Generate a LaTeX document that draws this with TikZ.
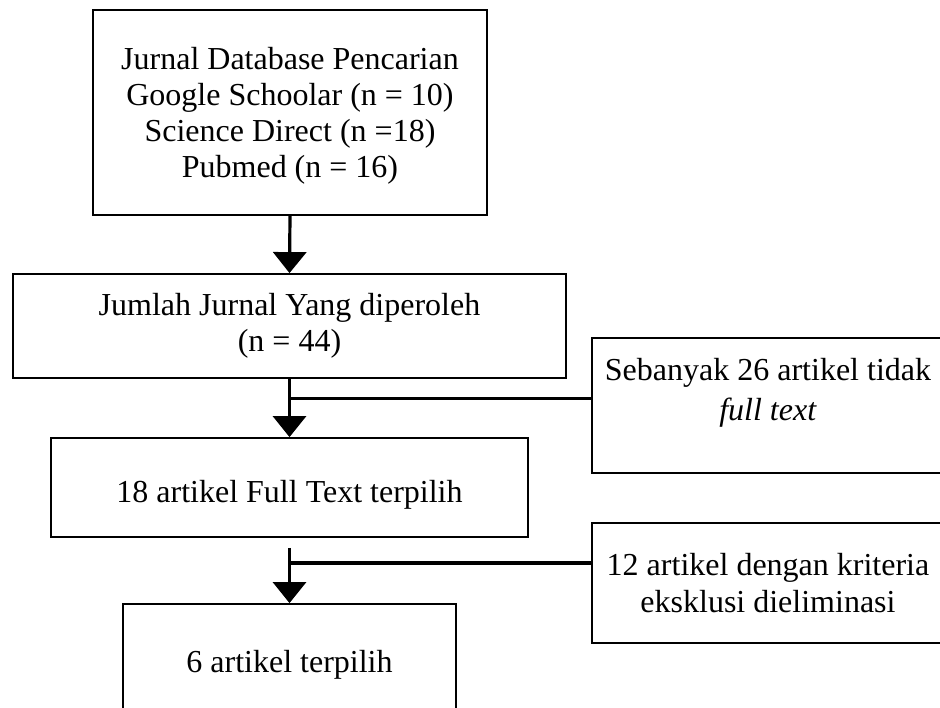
\documentclass[tikz,border=0pt]{standalone}
\usepackage{fontspec}
\setmainfont{Liberation Serif}
\usetikzlibrary{arrows.meta}
\begin{document}
\begin{tikzpicture}[x=1pt,y=-1pt,
  box/.style={draw=black, line width=1.8pt, rectangle, inner sep=0pt, align=center,
              font=\fontsize{32}{36}\selectfont},
  flow/.style={line width=3.2pt, -{Triangle[width=33pt,length=21pt]}},
  branch/.style={line width=3.2pt}]
\useasboundingbox (0,0) rectangle (940,708);
\fill[white] (0,0) rectangle (940,708);
\clip (0,0) rectangle (940,708);

\node[box, minimum width=394pt, minimum height=205pt] (b1) at (290,112.5)
  {\mbox{}\\[-8pt]Jurnal Database Pencarian\\Google Schoolar (n = 10)\\Science Direct (n =18)\\Pubmed (n = 16)};
\node[box, minimum width=553pt, minimum height=104pt] (b2) at (289.5,326)
  {Jumlah Jurnal Yang diperoleh\\(n = 44)};
\node[box, minimum width=477pt, minimum height=99pt, text height=36pt, text depth=7pt] (b3) at (289.5,487.5)
  {18 artikel Full Text terpilih};
\node[box, minimum width=333pt, minimum height=121pt] (b4) at (289.5,664.5)
  {6 artikel terpilih};
\node[box, minimum width=352pt, minimum height=135pt, font=\fontsize{32}{40}\selectfont] (sb1) at (768,405.5)
  {Sebanyak 26 artikel tidak\\\textit{full text}\\[-7pt]\mbox{}};
\node[box, minimum width=352pt, minimum height=120pt, font=\fontsize{32}{37}\selectfont] (sb2) at (768,583)
  {12 artikel dengan kriteria\\eksklusi dieliminasi};

\draw[flow] (b1.south) -- (b2.north);
\draw[flow] (b2.south) -- (b3.north);
\path (b2.south) ++(0,20) coordinate (j1);
\draw[branch] (j1) -- (j1 -| sb1.west);
\path (b3.south) ++(0,10) coordinate (s3);
\draw[flow] (s3) -- (b4.north);
\path (s3) ++(0,15) coordinate (j2);
\draw[branch] (j2) -- (j2 -| sb2.west);
\end{tikzpicture}
\end{document}
